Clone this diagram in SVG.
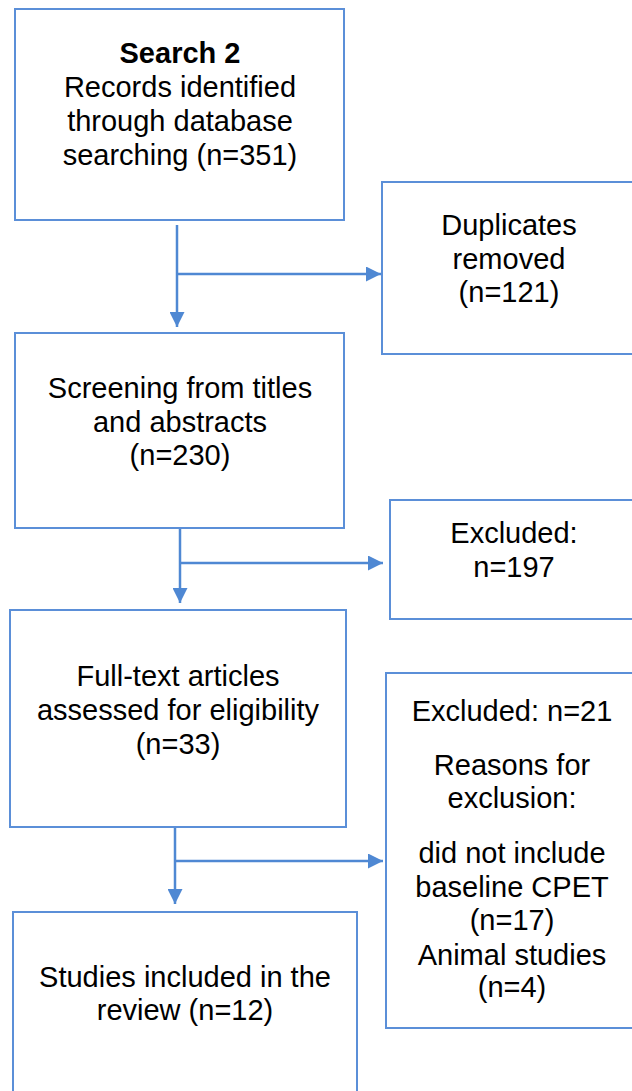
<svg xmlns="http://www.w3.org/2000/svg" width="632" height="1091" viewBox="0 0 632 1091">
  <defs>
    <style>
      .box { fill: #ffffff; stroke: #5b8fd8; stroke-width: 2; }
      .link { fill: none; stroke: #4f88d3; stroke-width: 2.5; }
      .t { font-family: "Liberation Sans", Arial, sans-serif; font-size: 29px; fill: #000000; text-anchor: middle; }
      .b { font-weight: bold; }
    </style>
    <marker id="arrow" viewBox="0 0 10 10" markerWidth="15" markerHeight="15" refX="10" refY="5" orient="auto" markerUnits="userSpaceOnUse">
      <path d="M0,0 L10,5 L0,10 Z" fill="#4f88d3"/>
    </marker>
  </defs>
  <rect width="632" height="1091" fill="#ffffff"/>

  <!-- connectors -->
  <g id="connectors">
    <path class="link" d="M177,225 V327" marker-end="url(#arrow)"/>
    <path class="link" d="M177,274 H381" marker-end="url(#arrow)"/>
    <path class="link" d="M180,528 V603" marker-end="url(#arrow)"/>
    <path class="link" d="M180,563 H383" marker-end="url(#arrow)"/>
    <path class="link" d="M175,827 V904" marker-end="url(#arrow)"/>
    <path class="link" d="M175,861 H383" marker-end="url(#arrow)"/>
  </g>

  <g id="search">
    <rect class="box" x="15" y="9" width="329" height="211"/>
    <text class="t b" x="180" y="63">Search 2</text>
    <text class="t" x="180" y="97">Records identified</text>
    <text class="t" x="180" y="131">through database</text>
    <text class="t" x="180" y="165">searching (n=351)</text>
  </g>

  <g id="duplicates">
    <rect class="box" x="382" y="182" width="270" height="172"/>
    <text class="t" x="509" y="235">Duplicates</text>
    <text class="t" x="509" y="269">removed</text>
    <text class="t" x="509" y="302">(n=121)</text>
  </g>

  <g id="screening">
    <rect class="box" x="15" y="333" width="329" height="195"/>
    <text class="t" x="180" y="398">Screening from titles</text>
    <text class="t" x="180" y="432">and abstracts</text>
    <text class="t" x="180" y="465">(n=230)</text>
  </g>

  <g id="excluded-screening">
    <rect class="box" x="390" y="500" width="262" height="119"/>
    <text class="t" x="514" y="543">Excluded:</text>
    <text class="t" x="514" y="577">n=197</text>
  </g>

  <g id="fulltext">
    <rect class="box" x="10" y="610" width="336" height="217"/>
    <text class="t" x="178" y="686">Full-text articles</text>
    <text class="t" x="178" y="720">assessed for eligibility</text>
    <text class="t" x="178" y="754">(n=33)</text>
  </g>

  <g id="excluded-fulltext">
    <rect class="box" x="386" y="673" width="266" height="355"/>
    <text class="t" x="512" y="721">Excluded: n=21</text>
    <text class="t" x="512" y="775">Reasons for</text>
    <text class="t" x="512" y="808">exclusion:</text>
    <text class="t" x="512" y="863">did not include</text>
    <text class="t" x="512" y="897">baseline CPET</text>
    <text class="t" x="512" y="930">(n=17)</text>
    <text class="t" x="512" y="965">Animal studies</text>
    <text class="t" x="512" y="997">(n=4)</text>
  </g>

  <g id="included">
    <rect class="box" x="13" y="912" width="344" height="200"/>
    <text class="t" x="185" y="987">Studies included in the</text>
    <text class="t" x="185" y="1020">review (n=12)</text>
  </g>
</svg>
